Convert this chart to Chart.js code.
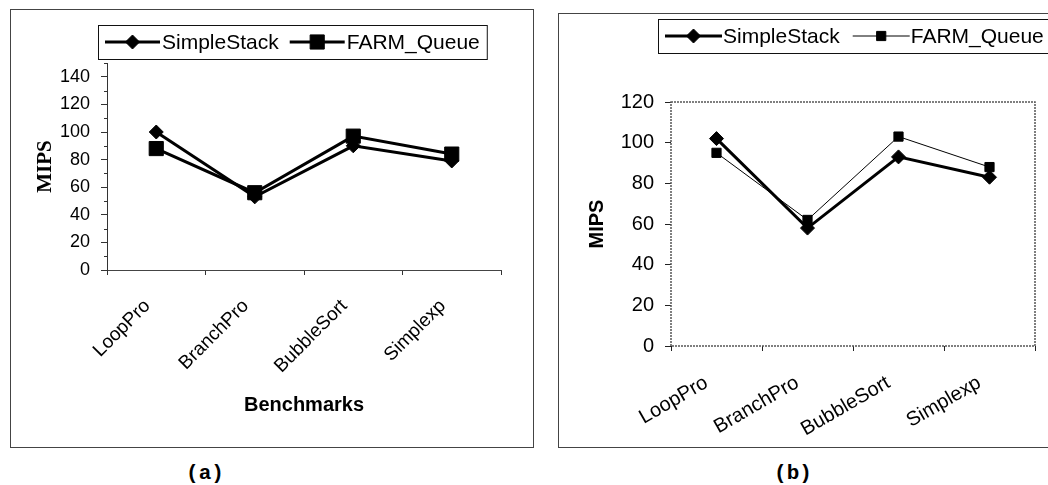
<!DOCTYPE html>
<html>
<head>
<meta charset="utf-8">
<script src="https://cdn.jsdelivr.net/npm/chart.js@4.4.1/dist/chart.umd.min.js"></script>
<style>
    body { margin: 0; width: 1048px; height: 485px; overflow: hidden; background: #fff; position: relative; font-family: Arial, "Liberation Sans", sans-serif; }
    .panel { position: absolute; border: 1px solid #444; box-sizing: border-box; }
    canvas { position: absolute; }
    .caption { position: absolute; font: bold 21px "Courier New", "Liberation Mono", monospace; transform: translate(-50%, -50%); }
</style>
</head>
<body>
<div class="panel" style="left:10px;top:9px;width:524px;height:439px"></div>
<div class="panel" style="left:558px;top:13px;width:500px;height:435px"></div>
<canvas id="chartA" width="524" height="439" style="left:10px;top:9px"></canvas>
<canvas id="chartB" width="491" height="435" style="left:557px;top:13px"></canvas>
<div class="caption" style="left:205px;top:473px">(a)</div>
<div class="caption" style="left:793px;top:473px">(b)</div>

<script>
/* ======================
   DATA
====================== */
const benchmarks = ["LoopPro", "BranchPro", "BubbleSort", "Simplexp"];
const seriesNames = ["SimpleStack", "FARM_Queue"];

// chart (a)
const simpleStackA = [100, 53, 90, 79];
const farmQueueA = [88, 56, 97, 84];
const yTicksA = [0, 20, 40, 60, 80, 100, 120, 140];
const yMaxA = 150;

// chart (b)
const simpleStackB = [102, 58, 93, 83];
const farmQueueB = [95, 62, 103, 88];
const yTicksB = [0, 20, 40, 60, 80, 100, 120];

const SANS = 'Arial, "Liberation Sans", sans-serif';
const SERIF = '"Times New Roman", "Liberation Serif", serif';

/* ======================
   PLUGINS
====================== */
// excel style legend: line sample with marker inside a box
const boxLegend = {
    id: "boxLegend",
    afterDraw(chart, args, o) {
        const ctx = chart.ctx;
        ctx.save();
        ctx.font = o.font;
        ctx.textBaseline = "middle";
        const sets = chart.data.datasets;
        const widths = sets.map(ds => ctx.measureText(ds.label).width);
        let w = o.pad * 2 + o.itemGap * (sets.length - 1);
        widths.forEach(tw => { w += o.lineLen + o.textGap + tw; });

        ctx.fillStyle = "#fff";
        ctx.fillRect(o.left, o.top, w, o.height);
        ctx.strokeStyle = "#111";
        ctx.lineWidth = 1;
        ctx.strokeRect(o.left + 0.5, o.top + 0.5, w, o.height);

        const cy = o.top + o.height / 2;
        let x = o.left + o.pad;
        sets.forEach((ds, i) => {
            ctx.beginPath();
            ctx.strokeStyle = ds.borderColor;
            ctx.lineWidth = ds.borderWidth;
            ctx.moveTo(x, cy);
            ctx.lineTo(x + o.lineLen, cy);
            ctx.stroke();

            ctx.fillStyle = ds.pointBackgroundColor;
            ctx.strokeStyle = ds.pointBorderColor;
            ctx.lineWidth = ds.pointBorderWidth;
            Chart.helpers.drawPoint(ctx, {
                pointStyle: ds.pointStyle,
                radius: ds.pointRadius,
                rotation: 0,
                borderWidth: ds.pointBorderWidth
            }, x + o.lineLen / 2, cy);

            x += o.lineLen + o.textGap;
            ctx.fillStyle = "#000";
            ctx.fillText(ds.label, x, cy + 1);
            x += widths[i] + o.itemGap;
        });
        ctx.restore();
    }
};

// dotted plot area frame (chart b)
const plotFrame = {
    id: "plotFrame",
    beforeDatasetsDraw(chart, args, o) {
        if (!o.color) return;
        const { ctx, chartArea: a } = chart;
        ctx.save();
        ctx.strokeStyle = o.color;
        ctx.lineWidth = 1.5;
        ctx.setLineDash([2, 1]);
        ctx.strokeRect(a.left, a.top, a.right - a.left, a.bottom - a.top);
        ctx.restore();
    }
};

// short minor tick marks between the labelled ones (chart a)
const minorTicks = {
    id: "minorTicks",
    afterDraw(chart, args, o) {
        if (!o.step) return;
        const ctx = chart.ctx;
        const y = chart.scales.y;
        ctx.save();
        ctx.strokeStyle = "#333";
        ctx.lineWidth = 1;
        ctx.beginPath();
        for (let v = o.step; v <= y.max; v += o.step * 2) {
            const py = Math.round(y.getPixelForValue(v)) + 0.5;
            ctx.moveTo(y.right - o.length, py);
            ctx.lineTo(y.right, py);
        }
        ctx.stroke();
        ctx.restore();
    }
};

function series(label, data, style, radius, width) {
    return {
        label: label,
        data: data,
        borderColor: "#000",
        borderWidth: width,
        backgroundColor: "#000",
        pointStyle: style,
        pointRadius: radius,
        pointBackgroundColor: "#000",
        pointBorderColor: "#000",
        pointBorderWidth: 1,
        tension: 0
    };
}

/* ======================
   CHART (a)
====================== */
new Chart(document.getElementById("chartA"), {
    type: "line",
    data: {
        labels: benchmarks,
        datasets: [
            series(seriesNames[0], simpleStackA, "rectRot", 7, 3),
            series(seriesNames[1], farmQueueA, "rect", 10, 3)
        ]
    },
    plugins: [boxLegend, minorTicks],
    options: {
        responsive: false,
        animation: false,
        layout: { padding: { left: 0, top: 54, right: 33, bottom: 0 } },
        plugins: {
            legend: { display: false },
            tooltip: { enabled: false },
            boxLegend: { left: 88, top: 16, height: 34, pad: 7, lineLen: 55, textGap: 2, itemGap: 11, font: "21px " + SANS },
            minorTicks: { step: 10, length: 3 }
        },
        scales: {
            x: {
                offset: true,
                afterFit: s => { s.height = 178; },
                grid: { offset: true, drawOnChartArea: false, tickLength: 5, color: "#333" },
                border: { color: "#444", width: 1 },
                ticks: {
                    autoSkip: false, minRotation: 45, maxRotation: 45,
                    padding: 20, labelOffset: -9,
                    color: "#000", font: { family: SANS, size: 19 }
                },
                title: {
                    display: true, text: "Benchmarks", color: "#000",
                    font: { family: SANS, size: 20, weight: "bold" },
                    padding: { top: 0, bottom: 31 }
                }
            },
            y: {
                min: 0,
                max: yMaxA,
                afterFit: s => { s.width = 97; },
                afterBuildTicks: s => { s.ticks = yTicksA.map(v => ({ value: v })); },
                grid: { drawOnChartArea: false, tickLength: 6, color: "#333" },
                border: { color: "#333", width: 1 },
                ticks: { padding: 11, color: "#000", font: { family: SANS, size: 18 } },
                title: {
                    display: true, text: "MIPS", color: "#000",
                    font: { family: SERIF, size: 21, weight: "bold" },
                    padding: { top: 23, bottom: 0 }
                }
            }
        }
    }
});

/* ======================
   CHART (b)
====================== */
new Chart(document.getElementById("chartB"), {
    type: "line",
    data: {
        labels: benchmarks,
        datasets: [
            series(seriesNames[0], simpleStackB, "rectRot", 7, 3),
            series(seriesNames[1], farmQueueB, "rect", 6.5, 1)
        ]
    },
    plugins: [plotFrame, boxLegend],
    options: {
        responsive: false,
        animation: false,
        layout: { padding: { left: 0, top: 89, right: 13, bottom: 0 } },
        plugins: {
            legend: { display: false },
            tooltip: { enabled: false },
            plotFrame: { color: "#555" },
            boxLegend: { left: 101, top: 6, height: 34, pad: 7, lineLen: 57, textGap: 1, itemGap: 13, font: "21px " + SANS }
        },
        scales: {
            x: {
                offset: true,
                afterFit: s => { s.height = 102; },
                grid: { offset: true, drawOnChartArea: false, tickLength: 5, color: "#222" },
                border: { display: false },
                ticks: {
                    autoSkip: false, minRotation: 30, maxRotation: 30,
                    padding: 20, labelOffset: -10,
                    color: "#000", font: { family: SANS, size: 20 }
                }
            },
            y: {
                min: 0,
                max: yTicksB[yTicksB.length - 1],
                afterFit: s => { s.width = 114; },
                afterBuildTicks: s => { s.ticks = yTicksB.map(v => ({ value: v })); },
                grid: { drawOnChartArea: false, tickLength: 6, color: "#222" },
                border: { display: false },
                ticks: { padding: 11, color: "#000", font: { family: SANS, size: 20 } },
                title: {
                    display: true, text: "MIPS", color: "#000",
                    font: { family: SANS, size: 20, weight: "bold" },
                    padding: { top: 28, bottom: 0 }
                }
            }
        }
    }
});
</script>
</body>
</html>
